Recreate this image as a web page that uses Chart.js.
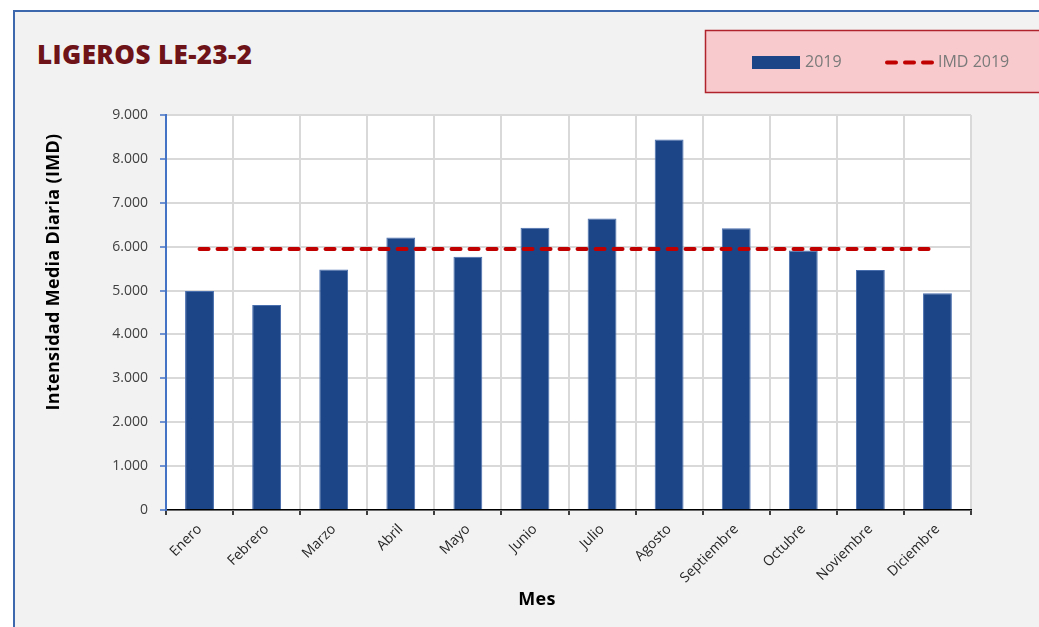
<!DOCTYPE html>
<html lang="es">
<head>
<meta charset="utf-8">
<title>LIGEROS LE-23-2</title>
<script src="https://cdn.jsdelivr.net/npm/chart.js@4.4.1/dist/chart.umd.min.js"></script>
<style>
  html, body { margin: 0; padding: 0; background: #ffffff; }
  body { width: 1039px; height: 627px; position: relative; overflow: hidden; }
  #frame {
    position: absolute; left: 13px; top: 10px; width: 1040px; height: 640px;
    background: #f2f2f2; border-left: 2px solid #3e68ad; border-top: 2px solid #3e68ad;
  }
  #title {
    position: absolute; left: 37px; top: 36px; margin: 0;
    font-family: "Open Sans", sans-serif; font-weight: 800; font-size: 26px;
    color: #6e1419; letter-spacing: 0.4px;
  }
  #wrap { position: absolute; left: 0; top: 0; width: 1039px; height: 627px; }
</style>
</head>
<body>
<div id="frame"></div>
<h1 id="title">LIGEROS LE-23-2</h1>
<div id="wrap"><canvas id="chart" width="1039" height="627"></canvas></div>
<script>
// Meses del año
const meses = ["Enero", "Febrero", "Marzo", "Abril", "Mayo", "Junio",
               "Julio", "Agosto", "Septiembre", "Octubre", "Noviembre", "Diciembre"];
// Intensidad media diaria mensual 2019 (vehículos ligeros)
const imd2019 = [4990, 4670, 5480, 6210, 5770, 6430, 6640, 8440, 6420, 5910, 5470, 4940];
// IMD anual 2019
const imdAnual = 5948;
const imdAnualSerie = meses.map(() => imdAnual);
// Marcas del eje vertical
const yMin = 0, yMax = 9000, yPaso = 1000;
// Títulos de los ejes
const tituloX = "Mes";
const tituloY = "Intensidad Media Diaria (IMD)";

const COLOR_BARRA = "#1b4587";
const COLOR_IMD = "#c00000";
const FUENTE = "'Open Sans', sans-serif";

function miles(v) {
  return String(v).replace(/\B(?=(\d{3})+(?!\d))/g, ".");
}

// Fondo blanco del área de trazado
const fondoArea = {
  id: "fondoArea",
  beforeDraw(chart) {
    const { ctx, chartArea: a } = chart;
    ctx.save();
    ctx.fillStyle = "#ffffff";
    ctx.fillRect(a.left, a.top, a.right - a.left, a.bottom - a.top);
    ctx.restore();
  }
};

// Títulos de los ejes, colocados como en la hoja original
const titulosEjes = {
  id: "titulosEjes",
  afterDraw(chart) {
    const ctx = chart.ctx;
    ctx.save();
    ctx.fillStyle = "#000000";
    ctx.font = "bold 18px " + FUENTE;
    ctx.textAlign = "center";
    ctx.textBaseline = "middle";
    if ("letterSpacing" in ctx) ctx.letterSpacing = "0.3px";
    ctx.fillText(tituloX, 537, 600);
    ctx.translate(54, 272);
    ctx.rotate(-Math.PI / 2);
    ctx.fillText(tituloY, 0, 0);
    ctx.restore();
  }
};

// Leyenda en recuadro rosa, arriba a la derecha
const leyendaCaja = {
  id: "leyendaCaja",
  afterDraw(chart) {
    const ctx = chart.ctx;
    const ds = chart.data.datasets;
    ctx.save();
    ctx.fillStyle = "#f9cacd";
    ctx.fillRect(705, 30, 340, 63);
    ctx.strokeStyle = "#b0222c";
    ctx.lineWidth = 1.5;
    ctx.strokeRect(705.5, 30.5, 340, 62);

    ctx.font = "16px " + FUENTE;
    ctx.textBaseline = "middle";

    // Barras
    ctx.fillStyle = ds[1].backgroundColor;
    ctx.fillRect(752, 56, 48, 13);
    ctx.fillStyle = "#7a7a7a";
    ctx.fillText(ds[1].label, 805, 62.5);

    // Línea discontinua
    ctx.strokeStyle = ds[0].borderColor;
    ctx.lineWidth = 4;
    ctx.lineCap = "round";
    ctx.setLineDash([9, 9]);
    ctx.beginPath();
    ctx.moveTo(887, 62.5);
    ctx.lineTo(932, 62.5);
    ctx.stroke();
    ctx.setLineDash([]);
    ctx.fillText(ds[0].label, 938, 62.5);
    ctx.restore();
  }
};

new Chart(document.getElementById("chart"), {
  data: {
    labels: meses,
    datasets: [
      {
        type: "line",
        label: "IMD 2019",
        data: imdAnualSerie,
        borderColor: COLOR_IMD,
        borderWidth: 4,
        borderDash: [9, 9],
        borderCapStyle: "round",
        pointRadius: 0,
        fill: false,
        order: 0
      },
      {
        type: "bar",
        label: "2019",
        data: imd2019,
        backgroundColor: COLOR_BARRA,
        borderColor: "#4a6fae",
        borderWidth: 1,
        barPercentage: 0.43,
        categoryPercentage: 1.0,
        order: 1
      }
    ]
  },
  options: {
    responsive: false,
    animation: false,
    events: [],
    layout: { padding: { top: 115, right: 68, left: 38, bottom: 10 } },
    plugins: {
      legend: { display: false },
      tooltip: { enabled: false },
      title: { display: false }
    },
    scales: {
      x: {
        offset: true,
        grid: {
          offset: true,
          color: "#d9d9d9",
          lineWidth: 2,
          tickColor: "#000000",
          tickLength: 5,
          tickWidth: 1.5
        },
        border: { color: "#000000", width: 1.5 },
        ticks: {
          color: "#262626",
          font: { family: FUENTE, size: 14 },
          maxRotation: 45,
          minRotation: 45,
          padding: 6,
          autoSkip: false
        },
        title: { display: false },
        afterFit(scale) { scale.height = 107; }
      },
      y: {
        min: yMin,
        max: yMax,
        grid: {
          color: "#d9d9d9",
          lineWidth: 2,
          tickColor: "#4472c4",
          tickLength: 6,
          tickWidth: 1.5
        },
        border: { color: "#4472c4", width: 2 },
        ticks: {
          stepSize: yPaso,
          color: "#404040",
          font: { family: FUENTE, size: 14 },
          padding: 12,
          callback: (v) => miles(v)
        },
        title: { display: false },
        afterFit(scale) { scale.width = 128; }
      }
    }
  },
  plugins: [fondoArea, titulosEjes, leyendaCaja]
});
</script>
</body>
</html>
